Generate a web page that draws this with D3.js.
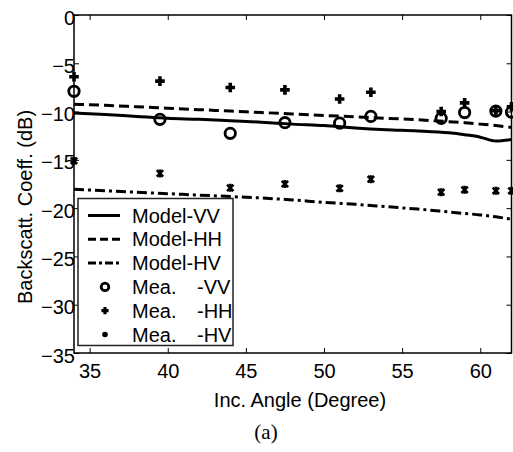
<!DOCTYPE html>
<html>
<head>
<meta charset="utf-8">
<script src="https://cdn.jsdelivr.net/npm/d3@7"></script>
<style>
  body { margin: 0; background: #fff; }
  svg text { font-family: "Liberation Sans", Arial, sans-serif; fill: #000; }
</style>
</head>
<body>
<div id="chart"></div>
<script>
// model curves
const modelAngles = [34, 36, 38, 40, 42, 44, 46, 48, 50, 52, 54, 56, 58, 59, 60, 61, 62];
const modelVV = [-10.15, -10.3, -10.5, -10.7, -10.8, -10.95, -11.1, -11.3, -11.45, -11.7, -11.88, -12.0, -12.2, -12.4, -12.65, -13.05, -12.9];
const modelHH = [-9.25, -9.35, -9.5, -9.65, -9.8, -9.95, -10.1, -10.25, -10.4, -10.55, -10.7, -10.85, -11.05, -11.15, -11.3, -11.45, -11.65];
const modelHV = [-18.05, -18.2, -18.35, -18.5, -18.65, -18.8, -18.95, -19.15, -19.4, -19.6, -19.85, -20.1, -20.4, -20.55, -20.7, -20.9, -21.15];

// measurements
const meaAngles = [34, 39.5, 44, 47.5, 51, 53, 57.5, 59, 61, 62];
const meaVV = [-7.9, -10.8, -12.25, -11.15, -11.2, -10.5, -10.7, -10.1, -9.95, -10.05];
const meaHH = [-6.4, -6.85, -7.5, -7.75, -8.7, -8.0, -10.0, -9.1, -9.9, -9.5];
const meaHV = [-15.1, -16.4, -17.9, -17.5, -17.95, -17.0, -18.35, -18.1, -18.2, -18.2];

const xTicks = [35, 40, 45, 50, 55, 60];
const yTicks = [0, -5, -10, -15, -20, -25, -30, -35];

const W = 513, H = 452;
const mLeft = 74, mTop = 15, mRight = 511.5, mBottom = 353;

const svg = d3.select('#chart').append('svg')
    .attr('width', W).attr('height', H);

const x = d3.scaleLinear().domain([34, 62]).range([mLeft, mRight]);
const y = d3.scaleLinear().domain([-35, 0]).range([mBottom, mTop]);

// axes with inward ticks
function styleAxis(g) {
    g.select('.domain').remove();
    g.selectAll('line').attr('stroke', '#000').attr('stroke-width', 1);
    g.selectAll('text').style('font-size', '20px')
        .style('font-family', '"Liberation Sans", Arial, sans-serif');
}

svg.append('g').attr('transform', 'translate(0,' + mBottom + ')')
    .call(d3.axisBottom(x).tickValues(xTicks).tickSizeInner(-5).tickSizeOuter(0).tickPadding(7))
    .call(styleAxis)
    .selectAll('text').attr('dy', '0.9em');

svg.append('g').attr('transform', 'translate(0,' + mTop + ')')
    .call(d3.axisTop(x).tickValues(xTicks).tickSizeInner(-5).tickSizeOuter(0).tickFormat(''))
    .call(styleAxis);

svg.append('g').attr('transform', 'translate(' + mLeft + ',0)')
    .call(d3.axisLeft(y).tickValues(yTicks).tickSizeInner(-5).tickSizeOuter(0).tickPadding(2))
    .call(styleAxis)
    .selectAll('text').attr('dy', '0.45em').attr('dx', '3');

svg.append('g').attr('transform', 'translate(' + mRight + ',0)')
    .call(d3.axisRight(y).tickValues(yTicks).tickSizeInner(-5).tickSizeOuter(0).tickFormat(''))
    .call(styleAxis);

// frame
svg.append('rect')
    .attr('x', mLeft).attr('y', mTop)
    .attr('width', mRight - mLeft).attr('height', mBottom - mTop)
    .attr('fill', 'none').attr('stroke', '#000').attr('stroke-width', 1.5);

// model lines
const line = d3.line()
    .x(d => x(d[0]))
    .y(d => y(d[1]))
    .curve(d3.curveMonotoneX);

const models = [
    { vals: modelVV, dash: null },
    { vals: modelHH, dash: '10,5' },
    { vals: modelHV, dash: '10,4,3,4' }
];
models.forEach(m => {
    svg.append('path')
        .datum(modelAngles.map((a, i) => [a, m.vals[i]]))
        .attr('d', line)
        .attr('fill', 'none')
        .attr('stroke', '#000')
        .attr('stroke-width', 3)
        .attr('stroke-dasharray', m.dash);
});

// markers
function circleMark(g, r) {
    g.append('circle').attr('r', r).attr('fill', 'none')
        .attr('stroke', '#000').attr('stroke-width', 2.8);
}
function plusMark(g, s, w) {
    g.append('path').attr('d', `M${-s},0H${s}M0,${-s}V${s}`)
        .attr('stroke', '#000').attr('stroke-width', w);
}
function starMark(g, s) {
    const d = s * 0.8;
    g.append('path')
        .attr('d', `M${-d},${-d}L${d},${d}M${-d},${d}L${d},${-d}M0,${-s}V${s}`)
        .attr('stroke', '#000').attr('stroke-width', 2.6);
}

meaAngles.forEach((a, i) => {
    circleMark(svg.append('g').attr('transform', `translate(${x(a)},${y(meaVV[i])})`), 5.2);
    plusMark(svg.append('g').attr('transform', `translate(${x(a)},${y(meaHH[i])})`), 4.8, 3.6);
    starMark(svg.append('g').attr('transform', `translate(${x(a)},${y(meaHV[i])})`), 4);
});

// legend
const lg = svg.append('g');
lg.append('rect')
    .attr('x', 78).attr('y', 198.5).attr('width', 155).attr('height', 147)
    .attr('fill', '#fff').attr('stroke', '#222').attr('stroke-width', 1.5);

const legendItems = [
    { name: 'Model-VV', kind: 'line', dash: null },
    { name: 'Model-HH', kind: 'line', dash: '8,4' },
    { name: 'Model-HV', kind: 'line', dash: '8,3,3,3' },
    { name: 'Mea.', suffix: '-VV', kind: 'circle' },
    { name: 'Mea.', suffix: '-HH', kind: 'plus' },
    { name: 'Mea.', suffix: '-HV', kind: 'star' }
];
legendItems.forEach((it, i) => {
    const cy = 215.5 + i * 23.8;
    const g = lg.append('g').attr('transform', `translate(0,${cy})`);
    if (it.kind === 'line') {
        g.append('line').attr('x1', 88).attr('x2', 120)
            .attr('stroke', '#000').attr('stroke-width', 3)
            .attr('stroke-dasharray', it.dash);
    } else {
        const m = g.append('g').attr('transform', 'translate(105,0)');
        if (it.kind === 'circle') circleMark(m, 3.8);
        if (it.kind === 'plus') plusMark(m, 3.6, 3.2);
        if (it.kind === 'star') m.append('circle').attr('r', 2.8).attr('fill', '#000');
    }
    g.append('text').attr('x', 132).attr('y', 7)
        .style('font-size', '20px').text(it.name);
    if (it.suffix) {
        g.append('text').attr('x', 197).attr('y', 7)
            .style('font-size', '20px').text(it.suffix);
    }
});

// axis titles
svg.append('text')
    .attr('x', 300).attr('y', 407)
    .attr('text-anchor', 'middle')
    .style('font-size', '20px')
    .text('Inc. Angle (Degree)');

svg.append('text')
    .attr('transform', 'translate(32,207) rotate(-90)')
    .attr('text-anchor', 'middle')
    .style('font-size', '20px')
    .text('Backscatt. Coeff. (dB)');

svg.append('text')
    .attr('x', 266).attr('y', 439)
    .attr('text-anchor', 'middle')
    .style('font-family', '"Liberation Serif", "Times New Roman", serif')
    .style('font-size', '21px')
    .text('(a)');
</script>
</body>
</html>
